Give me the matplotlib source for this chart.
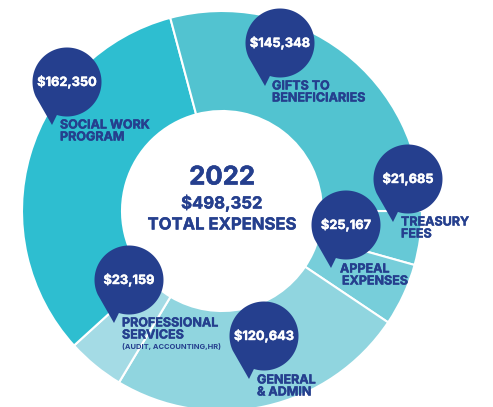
import numpy as np
import matplotlib
matplotlib.use("Agg")
import matplotlib.pyplot as plt
import matplotlib.patheffects as pe
from matplotlib.patches import Polygon

W, H = 493, 407
# clockwise from the 3 o'clock position
categories = ["Treasury Fees", "Appeal Expenses", "General & Admin",
              "Professional Services", "Social Work Program", "Gifts to Beneficiaries"]
values = [21685, 25167, 120643, 23159, 162350, 145348]
colors = ["#66C9D6", "#77CEDA", "#90D5DF", "#A4DBE5", "#2EBED0", "#52C3D0"]
value_labels = ["$21,685", "$25,167", "$120,643", "$23,159", "$162,350", "$145,348"]
pin_xy = [(408, 179), (346, 225), (264, 336), (129, 280), (67, 82), (280, 43)]
label_lines = [
    [("TREASURY", 401, 222), ("FEES", 401, 234)],
    [("APPEAL", 340, 269), ("EXPENSES", 342, 281)],
    [("GENERAL", 257, 380), ("& ADMIN", 257, 392)],
    [("PROFESSIONAL", 122, 323), ("SERVICES", 122, 335)],
    [("SOCIAL WORK", 60, 125), ("PROGRAM", 60, 137)],
    [("GIFTS TO", 272, 86), ("BENEFICIARIES", 272, 98)],
]
NAVY = "#253F8E"
FONT = "Inter"

fig = plt.figure(figsize=(W / 100, H / 100), dpi=100)
ax = fig.add_axes([0, 0, 1, 1])

cx, cy, R, r = 222, H - 211, 200, 100
ax.pie(values, colors=colors, startangle=0, counterclock=False, center=(cx, cy), radius=R,
       wedgeprops=dict(width=R - r, edgecolor="white", linewidth=1.5), frame=True)
ax.set_xlim(0, W)
ax.set_ylim(0, H)
ax.set_aspect("equal")
ax.axis("off")


def bold(color, w=0.3):
    return [pe.withStroke(linewidth=w, foreground=color)]


def pin(px, py, rad=34.5):
    py = H - py
    tip = np.array([px - 15, py - 43])
    th = np.radians(np.linspace(-107, 205, 140))
    pts = np.column_stack([px + rad * np.cos(th), py + rad * np.sin(th)])
    ax.add_patch(Polygon(np.vstack([pts, tip]), closed=True, fc=NAVY, ec="none", zorder=5))


for (px, py), vl, lines in zip(pin_xy, value_labels, label_lines):
    pin(px, py)
    ax.text(px, H - py, vl, color="white", fontsize=9.2, fontweight="bold", family=FONT,
            ha="center", va="center", zorder=6, path_effects=bold("white"))
    for t, x, y in lines:
        ax.text(x, H - y - 0.5, t, color=NAVY, fontsize=9, fontweight="bold", family=FONT,
                ha="left", va="center", zorder=6, path_effects=bold(NAVY))

ax.text(122, H - 347, "(AUDIT, ACCOUNTING,HR)", color=NAVY, fontsize=5.4, fontweight="bold",
        family=FONT, ha="left", va="center", zorder=6)
ax.text(222, H - 178, "2022", color=NAVY, fontsize=18.5, fontweight="bold", family=FONT,
        ha="center", va="center", zorder=6, path_effects=bold(NAVY, 0.4))
ax.text(222, H - 203, "$498,352", color=NAVY, fontsize=12, fontweight="bold", family=FONT,
        ha="center", va="center", zorder=6, path_effects=bold(NAVY))
ax.text(222, H - 225, "TOTAL EXPENSES", color=NAVY, fontsize=12, fontweight="bold", family=FONT,
        ha="center", va="center", zorder=6, path_effects=bold(NAVY))

fig.savefig("out.png", dpi=100, facecolor="white")
